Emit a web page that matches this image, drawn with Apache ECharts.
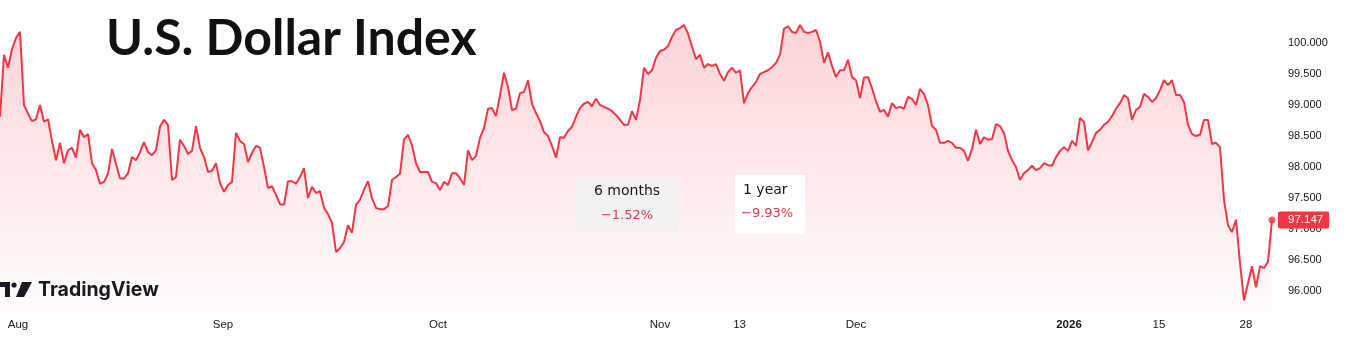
<!DOCTYPE html>
<html>
<head>
<meta charset="utf-8">
<script src="https://cdn.jsdelivr.net/npm/echarts@6/dist/echarts.min.js"></script>
<style>
html,body{margin:0;padding:0;background:#fff;}
#chart{width:1354px;height:350px;}
</style>
</head>
<body>
<div id="chart"></div>
<script>
// U.S. Dollar Index, sampled along the session timeline (late Jul 2025 – end Jan 2026)
const augVals = [98.81, 99.81, 99.60, 99.90, 100.08, 100.18, 99.00, 98.86, 98.74, 98.77,
  99.00, 98.73, 98.77, 98.42, 98.11, 98.39, 98.06, 98.27, 98.31, 98.15,
  98.60, 98.48, 98.53, 98.06, 97.95, 97.73, 97.76, 97.89, 98.29, 98.05,
  97.82, 97.81, 97.90, 98.16, 98.11, 98.24, 98.40, 98.24, 98.19, 98.27,
  98.65, 98.76, 98.68, 97.79, 97.84, 98.44, 98.34, 98.21, 98.26, 98.66,
  98.31, 98.16, 97.92, 97.94, 98.06, 97.74];
const sepVals = [97.60, 97.71, 97.76, 98.55,
  98.42, 98.37, 98.08, 98.23, 98.34, 98.31, 98.00, 97.66, 97.69, 97.55,
  97.40, 97.39, 97.77, 97.77, 97.73, 97.84, 97.98, 97.50, 97.68, 97.58,
  97.61, 97.34, 97.24, 97.10, 96.63, 96.69, 96.79, 97.06, 96.94, 97.39,
  97.47, 97.63, 97.77, 97.50, 97.34, 97.32, 97.32, 97.37, 97.79, 97.84,
  97.89, 98.44, 98.52, 98.35, 98.06, 97.92, 97.92, 97.92, 97.76, 97.74];
const octVals = [97.63, 97.76, 97.71, 97.90, 97.90, 97.82, 97.71, 98.27, 98.11, 98.18,
  98.47, 98.63, 98.94, 98.95, 98.82, 99.16, 99.52, 99.29, 98.92, 98.94,
  99.19, 99.21, 99.40, 99.02, 98.87, 98.74, 98.56, 98.50, 98.34, 98.15,
  98.48, 98.47, 98.58, 98.65, 98.81, 98.95, 99.02, 99.05, 98.98, 99.10,
  99.00, 98.97, 98.94, 98.90, 98.84, 98.76, 98.68, 98.68, 98.90, 98.76,
  99.08, 99.60, 99.50, 99.56, 99.76];
const novVals = [99.87, 99.89, 99.95, 100.10, 100.21,
  100.24, 100.29, 100.15, 99.94, 99.74, 99.81, 99.60, 99.66, 99.63, 99.66,
  99.50, 99.39, 99.53, 99.60, 99.52, 99.56, 99.03, 99.19, 99.29, 99.37,
  99.50, 99.53, 99.56, 99.61, 99.68, 99.81, 100.23, 100.27, 100.18, 100.16,
  100.29, 100.18, 100.16, 100.18, 100.21, 100.02, 99.68, 99.85, 99.63, 99.45,
  99.56, 99.56, 99.73, 99.45];
const decVals = [99.40, 99.11, 99.44, 99.45, 99.27, 99.06,
  98.89, 98.92, 98.81, 99.03, 98.95, 98.97, 98.94, 99.13, 99.10, 99.00,
  99.26, 99.18, 99.00, 98.66, 98.60, 98.39, 98.39, 98.42, 98.39, 98.31,
  98.31, 98.26, 98.10, 98.29, 98.60, 98.37, 98.48, 98.44, 98.45, 98.69,
  98.66, 98.55, 98.26, 98.11, 98.00, 97.79, 97.90, 97.95, 98.02, 97.95,
  97.98, 98.06, 98.03, 98.02, 98.16, 98.26, 98.32];
const janVals = [98.26, 98.42, 98.34,
  98.79, 98.73, 98.27, 98.40, 98.55, 98.60, 98.68, 98.73, 98.82, 98.94,
  99.03, 99.16, 99.11, 98.76, 98.92, 98.97, 99.18, 99.13, 99.05, 99.11,
  99.24, 99.40, 99.32, 99.40, 99.16, 99.16, 99.05, 98.68, 98.53, 98.50,
  98.52, 98.76, 98.76, 98.37, 98.39, 98.32, 97.47, 97.06, 96.95, 97.15,
  96.45, 95.85, 96.13, 96.40, 96.06, 96.40, 96.37, 96.47, 97.147];

// x-axis tick labels and the sample index where each falls
const xTickLabels = ['Aug', 'Sep', 'Oct', 'Nov', '13', 'Dec', '2026', '15', '28'];
const xTickIdx = [4.5, 55.75, 109.5, 165, 184.9, 214, 267.25, 289.75, 311.5];
const yTicks = [96, 96.5, 97, 97.5, 98, 98.5, 99, 99.5, 100];

const titleText = 'U.S. Dollar Index';
const perfLabels = ['6 months', '1 year'];
const perfValues = ['\u22121.52%', '\u22129.93%'];

const allVals = [].concat(augVals, sepVals, octVals, novVals, decVals, janVals);
const seriesData = allVals.map((v, i) => [i, v]);
const lastIdx = allVals.length - 1;
const lastVal = allVals[lastIdx];

const RED = '#f23645';
const TXT = '#131722';

const chart = echarts.init(document.getElementById('chart'), null, {renderer: 'canvas'});
chart.setOption({
  animation: false,
  backgroundColor: '#ffffff',
  grid: {left: 0, right: 74, top: 0, bottom: 38, containLabel: false},
  xAxis: {
    type: 'value', min: 0, max: 320,
    axisLine: {show: false}, axisTick: {show: false}, splitLine: {show: false},
    axisLabel: {
      customValues: xTickIdx,
      margin: 7,
      fontFamily: 'Liberation Sans', fontSize: 11.5, color: TXT,
      formatter: function (v) {
        for (let k = 0; k < xTickIdx.length; k++) {
          if (Math.abs(xTickIdx[k] - v) < 0.01) {
            return xTickLabels[k] === '2026' ? '{b|2026}' : xTickLabels[k];
          }
        }
        return '';
      },
      rich: {b: {fontWeight: 'bold', fontFamily: 'Liberation Sans', fontSize: 11.5, color: TXT}}
    }
  },
  yAxis: {
    type: 'value', position: 'right',
    min: 100 - 269 / 62, max: 100 + 43 / 62,
    axisLine: {show: false}, axisTick: {show: false}, splitLine: {show: false},
    axisLabel: {
      customValues: yTicks, margin: 8,
      fontFamily: 'Liberation Sans', fontSize: 11, color: TXT,
      formatter: v => v.toFixed(3)
    }
  },
  series: [
    {
      type: 'line', data: seriesData, showSymbol: false, smooth: false,
      lineStyle: {color: RED, width: 2},
      areaStyle: {
        origin: 'start',
        color: new echarts.graphic.LinearGradient(0, 0, 0, 1, [
          {offset: 0, color: 'rgba(242,54,69,0.30)'},
          {offset: 1, color: 'rgba(242,54,69,0.02)'}
        ])
      },
      endLabel: {
        show: true, distance: 6,
        formatter: p => p.value[1].toFixed(3),
        color: '#ffffff', backgroundColor: RED,
        fontFamily: 'Liberation Sans', fontSize: 11.5,
        padding: [3, 6, 2, 10], borderRadius: 2
      },
      z: 3
    },
    {
      type: 'scatter', data: [[lastIdx, lastVal]],
      symbol: 'circle', symbolSize: 7,
      itemStyle: {color: RED}, z: 4, silent: true
    }
  ],
  graphic: [
    {type: 'text', left: 106, top: 14, style: {text: titleText, fontFamily: 'Lato', fontWeight: 'bold', fontSize: 50, fill: '#111111'}},
    // 6 months box
    {type: 'rect', shape: {x: 576, y: 177, width: 102, height: 55}, style: {fill: '#f2f2f2'}, z: 10},
    {type: 'text', x: 627, y: 191, z: 11, style: {text: perfLabels[0], fontFamily: 'DejaVu Sans', fontSize: 14, fill: TXT, align: 'center', verticalAlign: 'middle'}},
    {type: 'text', x: 627, y: 216, z: 11, style: {text: perfValues[0], fontFamily: 'DejaVu Sans', fontSize: 13, fill: '#e0364c', align: 'center', verticalAlign: 'middle'}},
    // 1 year box
    {type: 'rect', shape: {x: 735, y: 175, width: 70, height: 59}, style: {fill: '#ffffff'}, z: 10},
    {type: 'text', x: 743, y: 190, z: 11, style: {text: perfLabels[1], fontFamily: 'DejaVu Sans', fontSize: 14, fill: TXT, align: 'left', verticalAlign: 'middle'}},
    {type: 'text', x: 741, y: 214, z: 11, style: {text: perfValues[1], fontFamily: 'DejaVu Sans', fontSize: 13, fill: '#e0364c', align: 'left', verticalAlign: 'middle'}},
    // TradingView logo
    {type: 'group', z: 12, children: [
      {type: 'polygon', shape: {points: [[0, 282], [10, 282], [10, 297], [5, 297], [5, 287], [0, 287]]}, style: {fill: '#131722'}},
      {type: 'circle', shape: {cx: 14, cy: 285, r: 2.6}, style: {fill: '#131722'}},
      {type: 'polygon', shape: {points: [[22, 282], [32, 282], [24, 297], [16, 297]]}, style: {fill: '#131722'}},
      {type: 'text', x: 38, y: 290, style: {text: 'TradingView', fontFamily: 'Inter', fontWeight: 'bold', fontSize: 19.5, fill: '#131722', verticalAlign: 'middle'}}
    ]}
  ]
});
</script>
</body>
</html>
